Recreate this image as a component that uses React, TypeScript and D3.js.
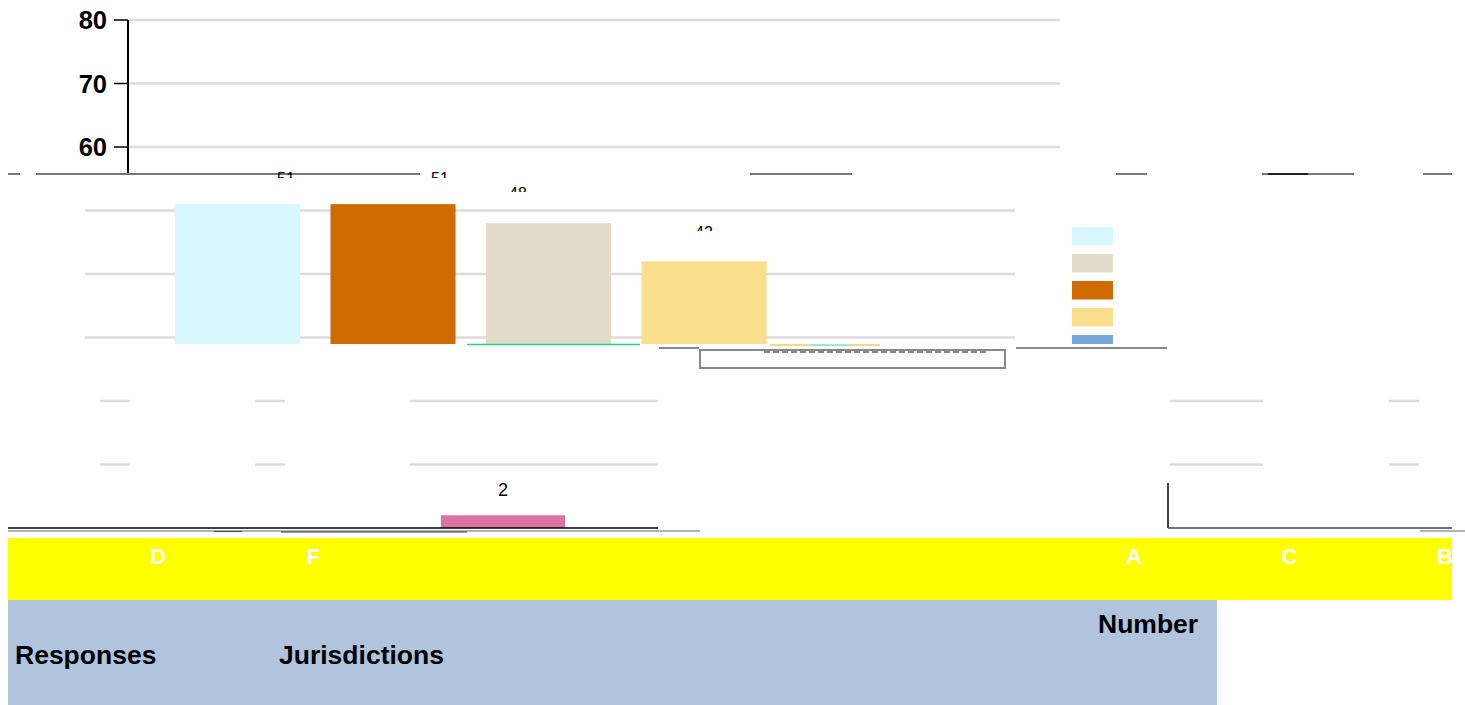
import React from "react";
import * as d3 from "d3";

// ---- data ----
const yTicksTop = [80, 70, 60];
const yTicksMid = [50, 40, 30];
const yTicksLow = [20, 10];
const barValues = [51, 51, 48, 42];
const barValueLabels = ["51", "51", "48", "42"];
const barColors = ["#d7f7fc", "#cf6b00", "#e4dccb", "#f9df8b"];
const smallBarValues = [2];
const smallBarColor = "#db72a4";
const legendColors = ["#d7f7fc", "#e4dccb", "#cf6b00", "#f9df8b", "#74a7da"];
const xLabelsLeft = ["D", "F"];
const xLabelsRight = ["A", "C", "B"];
const headerLabels = ["Responses", "Jurisdictions", "Number"];

const FONT = "'Liberation Sans', Arial, Helvetica, sans-serif";
const GRID = "#dcdcdc";

export default function App() {
  const y = d3.scaleLinear().domain([0, 80]).range([528, 20]);

  const xBars = d3
    .scaleBand<string>()
    .domain(barValues.map((_, i) => String(i)))
    .range([159.75, 781.75])
    .paddingInner(0.196)
    .paddingOuter(0.098);

  const xSmall = d3
    .scaleBand<string>()
    .domain(smallBarValues.map((_, i) => String(i)))
    .range([425.75, 580.25])
    .paddingInner(0.196)
    .paddingOuter(0.098);

  const xLeft = d3.scalePoint<string>().domain(xLabelsLeft).range([158, 313.5]);
  const xRight = d3.scalePoint<string>().domain(xLabelsRight).range([1134, 1445]);

  const lowSegments: [number, number][] = [
    [100, 130],
    [255, 285],
    [410, 658],
    [1170, 1263],
    [1389, 1419],
  ];

  const legendY = d3
    .scaleBand<string>()
    .domain(legendColors.map((_, i) => String(i)))
    .range([227, 353.5])
    .paddingInner(0.315)
    .paddingOuter(0);

  return (
    <svg
      width={1465}
      height={705}
      style={{ position: "absolute", left: 0, top: 0, background: "#fff" }}
      fontFamily={FONT}
    >
      <defs>
        <clipPath id="topBand">
          <rect x={0} y={0} width={1465} height={173} />
        </clipPath>
        <clipPath id="midBand">
          <rect x={0} y={173} width={1465} height={171} />
        </clipPath>
        <clipPath id="labelFrag">
          <rect x={0} y={172} width={1465} height={6} />
        </clipPath>
        <clipPath id="labelFrag2">
          <rect x={0} y={186} width={1465} height={6} />
        </clipPath>
        <clipPath id="labelFrag3">
          <rect x={0} y={225} width={1465} height={6} />
        </clipPath>
        <clipPath id="rightClip">
          <rect x={0} y={0} width={1452} height={705} />
        </clipPath>
      </defs>

      {/* ---- top band: y axis 80..60 ---- */}
      <g clipPath="url(#topBand)">
        {yTicksTop.map((t) => (
          <g key={t}>
            <line x1={128} x2={1060} y1={y(t)} y2={y(t)} stroke={GRID} strokeWidth={2.5} />
            <line x1={114} x2={128} y1={y(t)} y2={y(t)} stroke="#000" strokeWidth={1.5} />
            <text
              x={107}
              y={y(t)}
              dy="0.36em"
              textAnchor="end"
              fontWeight="bold"
              fontSize={25.5}
              fill="#000"
            >
              {t}
            </text>
          </g>
        ))}
        <line x1={128} x2={128} y1={y(80)} y2={y(0)} stroke="#000" strokeWidth={2} />
      </g>

      {/* band boundary artifacts */}
      <g stroke="#777" strokeWidth={2}>
        <line x1={8} x2={20} y1={174} y2={174} />
        <line x1={36} x2={300} y1={174} y2={174} />
        <line x1={290} x2={420} y1={174} y2={174} />
        <line x1={750} x2={852} y1={174} y2={174} />
        <line x1={1116} x2={1147} y1={174} y2={174} />
        <line x1={1262} x2={1354} y1={174} y2={174} />
        <line x1={1423} x2={1452} y1={174} y2={174} />
      </g>
      <line x1={1268} x2={1308} y1={174} y2={174} stroke="#222" strokeWidth={2} />

      {/* value label fragments */}
      <g clipPath="url(#labelFrag)" fontSize={16} fill="#000">
        <text x={286} y={184} textAnchor="middle">{barValueLabels[0]}</text>
        <text x={440} y={184} textAnchor="middle">{barValueLabels[1]}</text>
        <text x={203} y={194} textAnchor="middle">{barValueLabels[0]}</text>
        <text x={358} y={194} textAnchor="middle">{barValueLabels[1]}</text>
      </g>
      <g clipPath="url(#labelFrag2)" fontSize={16} fill="#000">
        <text x={518} y={199} textAnchor="middle">{barValueLabels[2]}</text>
      </g>
      <g clipPath="url(#labelFrag3)" fontSize={16} fill="#000">
        <text x={704} y={238} textAnchor="middle">{barValueLabels[3]}</text>
      </g>

      {/* ---- middle band: shifted grid + bars ---- */}
      <g clipPath="url(#midBand)">
        {yTicksMid.map((t) => (
          <line key={t} x1={85} x2={1015} y1={y(t)} y2={y(t)} stroke={GRID} strokeWidth={2.5} />
        ))}
        {barValues.map((v, i) => (
          <rect
            key={i}
            x={xBars(String(i))}
            width={xBars.bandwidth()}
            y={y(v)}
            height={y(0) - y(v)}
            fill={barColors[i]}
          />
        ))}
        {legendColors.map((c, i) => (
          <rect
            key={i}
            x={1072}
            y={legendY(String(i))}
            width={41}
            height={legendY.bandwidth()}
            fill={c}
          />
        ))}
      </g>

      {/* mid/low boundary artifacts */}
      <line x1={467} x2={640} y1={344.5} y2={344.5} stroke="#2ecc85" strokeWidth={1.5} />
      <line x1={770} x2={880} y1={345} y2={345} stroke="#f3d98a" strokeWidth={2} />
      <line x1={810} x2={850} y1={345} y2={345} stroke="#9fe6dc" strokeWidth={2} />
      <g stroke="#888" strokeWidth={2} fill="none">
        <line x1={659} x2={699} y1={348} y2={348} />
        <line x1={1016} x2={1167} y1={348} y2={348} />
        <rect x={700} y={350} width={305} height={18} />
        <line x1={764} x2={986} y1={352} y2={352} strokeDasharray="6 3" />
      </g>

      {/* ---- low band: segmented grid + small bar ---- */}
      {yTicksLow.map((t) =>
        lowSegments.map(([a, b], j) => (
          <line key={`${t}-${j}`} x1={a} x2={b} y1={y(t)} y2={y(t)} stroke={GRID} strokeWidth={2.5} />
        ))
      )}
      {smallBarValues.map((v, i) => (
        <g key={i}>
          <rect
            x={xSmall(String(i))}
            width={xSmall.bandwidth()}
            y={y(v)}
            height={y(0) - y(v)}
            fill={smallBarColor}
          />
          <text
            x={(xSmall(String(i)) as number) + xSmall.bandwidth() / 2}
            y={y(v) - 19}
            textAnchor="middle"
            fontSize={18}
            fill="#000"
          >
            {v}
          </text>
        </g>
      ))}

      {/* baseline artifacts */}
      <line x1={8} x2={658} y1={y(0)} y2={y(0)} stroke="#000" strokeWidth={1.5} />
      <line x1={8} x2={700} y1={531} y2={531} stroke="#999" strokeWidth={1.5} />
      <line x1={281} x2={467} y1={532} y2={532} stroke="#333" strokeWidth={1.2} />
      <line x1={214} x2={242} y1={531.5} y2={531.5} stroke="#555" strokeWidth={1.2} />
      <line x1={1168} x2={1168} y1={483} y2={y(0)} stroke="#000" strokeWidth={1.5} />
      <line x1={1168} x2={1452} y1={y(0)} y2={y(0)} stroke="#444" strokeWidth={1.5} />
      <line x1={1420} x2={1465} y1={531} y2={531} stroke="#999" strokeWidth={1.5} />

      {/* ---- x-axis label band ---- */}
      <rect x={8} y={538} width={1444} height={62} fill="#ffff00" />
      <g clipPath="url(#rightClip)" fontSize={22} fontWeight="bold" fill="#fff" textAnchor="middle">
        {xLabelsLeft.map((l) => (
          <text key={l} x={xLeft(l)} y={564}>
            {l}
          </text>
        ))}
        {xLabelsRight.map((l) => (
          <text key={l} x={xRight(l)} y={564}>
            {l}
          </text>
        ))}
      </g>

      {/* ---- table header ---- */}
      <rect x={8} y={600} width={1209} height={105} fill="#b0c4de" />
      <g fontSize={26.5} fontWeight="bold" fill="#000">
        <text x={15} y={664}>{headerLabels[0]}</text>
        <text x={279} y={664}>{headerLabels[1]}</text>
        <text x={1098} y={633}>{headerLabels[2]}</text>
      </g>
    </svg>
  );
}
